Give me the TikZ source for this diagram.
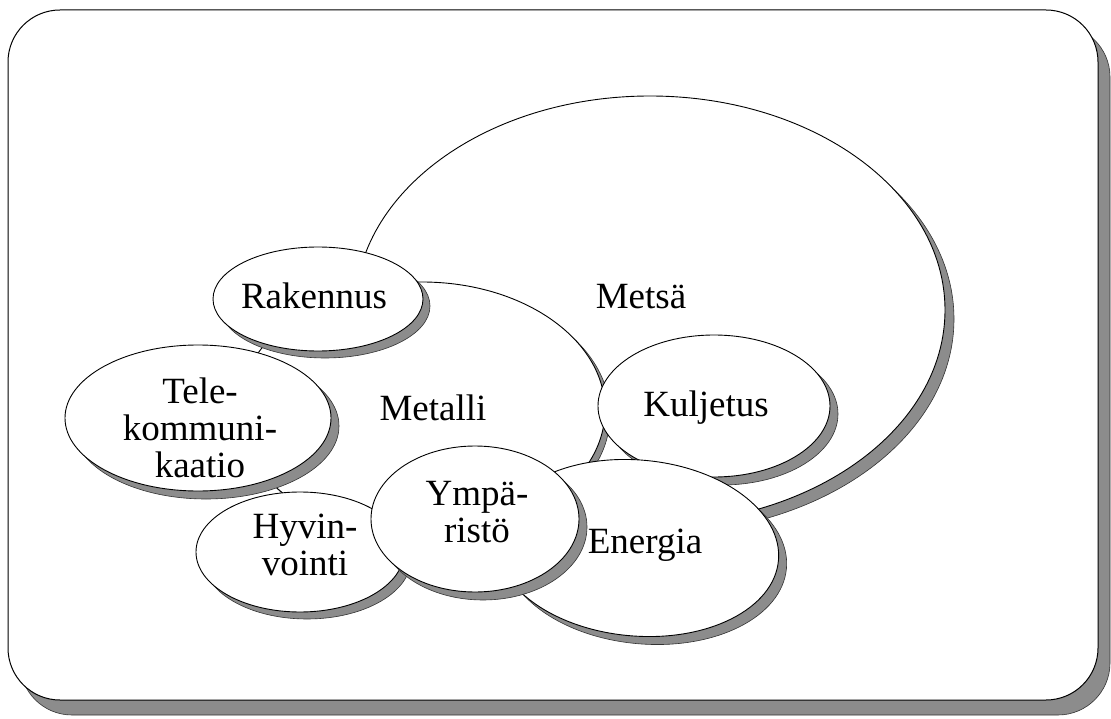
\documentclass[tikz,border=0pt]{standalone}
\usepackage{fontspec}
\setmainfont{Liberation Serif}
\usetikzlibrary{shapes.geometric,shadows}
\tikzset{
  shadowfill/.style={fill=black!45, draw=black!80, line width=0.6pt, opacity=1},
  blob/.style={ellipse, draw=black, line width=0.9pt, fill=white, inner sep=0pt,
    drop shadow={shadow xshift=#1pt, shadow yshift=-#1pt, shadowfill}},
  blob/.default=7,
  lbl/.style={font=\fontsize{37}{37}\selectfont, align=center, inner sep=0pt},
}
\begin{document}
\begin{tikzpicture}[x=1pt,y=-1pt]
\useasboundingbox (0,0) rectangle (1111,719);
% frame
\draw[rounded corners=52pt, line width=1pt, fill=white,
  drop shadow={shadow xshift=12pt, shadow yshift=-15pt, shadowfill}]
  (8,10) rectangle (1098,700);
% ellipses, back to front
\node[blob=9, minimum width=590pt, minimum height=428pt] (metsa) at (650,310) {};
\node[blob=5, minimum width=366pt, minimum height=256pt] (metalli) at (422,410) {};
\node[blob=8, minimum width=232pt, minimum height=142pt] (kuljetus) at (714,406) {};
\node[blob=8, minimum width=284pt, minimum height=176pt, rotate=-5] (energia) at (637,548) {};
\node[blob=7, minimum width=208pt, minimum height=120pt] (hyvinvointi) at (300,552) {};
\node[blob=8, minimum width=208pt, minimum height=146pt] (ymparisto) at (475,519) {};
\node[blob=8, minimum width=266pt, minimum height=146pt] (tele) at (198,418) {};
\node[blob=7, minimum width=210pt, minimum height=104pt] (rakennus) at (318,299) {};
% labels
\node[lbl] (t-metsa) at (641,297) {Metsä};
\node[lbl] (t-metalli) at (433,408) {Metalli};
\node[lbl] (t-rakennus) at (314,296) {Rakennus};
\node[lbl] (t-tele) at (200,428) {Tele-\\kommuni-\\kaatio};
\node[lbl] (t-kuljetus) at (706,408) {Kuljetus};
\node[lbl] (t-energia) at (645,545) {Energia};
\node[lbl] (t-hyvinvointi) at (305,545) {Hyvin-\\vointi};
\node[lbl] (t-ymparisto) at (477,512) {Ympä-\\ristö};
\end{tikzpicture}
\end{document}
